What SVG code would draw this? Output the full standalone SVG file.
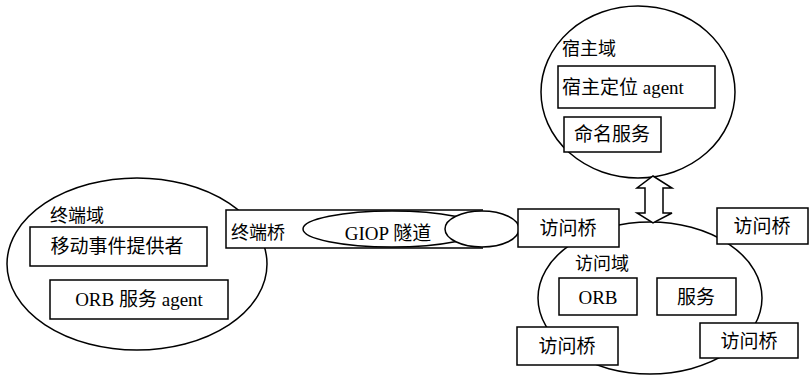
<svg xmlns="http://www.w3.org/2000/svg" width="812" height="375" viewBox="0 0 812 375">
<style>
.s{fill:#fff;stroke:#000;stroke-width:1.5}
.n{fill:none;stroke:#000;stroke-width:1.5}
text{font-family:"Liberation Serif","Noto Sans CJK SC",serif;font-size:19px;fill:#000}
.c{text-anchor:middle}
.d{font-size:18px}
</style>
<rect width="812" height="375" fill="#fff"/>
<g id="terminal-domain">
<ellipse class="s" cx="137" cy="264" rx="130" ry="86"/>
<text class="d" x="50" y="222">终端域</text>
<g id="mobile-event-provider"><rect class="s" x="30" y="227" width="177" height="39"/><text class="c" x="117" y="253">移动事件提供者</text></g>
<g id="orb-service-agent"><rect class="s" x="50" y="280" width="178" height="39"/><text class="c" x="139" y="306">ORB 服务 agent</text></g>
</g>
<g id="host-domain">
<ellipse class="s" cx="638" cy="92" rx="97" ry="86"/>
<text class="d" x="562" y="55">宿主域</text>
<g id="host-locator-agent"><rect class="s" x="558" y="66" width="157" height="42"/><text x="562" y="94">宿主定位 agent</text></g>
<g id="naming-service"><rect class="s" x="564" y="117" width="97" height="35"/><text class="c" x="612" y="141">命名服务</text></g>
</g>
<g id="access-domain">
<ellipse class="s" cx="650" cy="298" rx="112" ry="76"/>
<text class="d" x="575" y="270">访问域</text>
<g id="orb"><rect class="s" x="559" y="278" width="78" height="37"/><text class="c" x="598" y="304">ORB</text></g>
<g id="service"><rect class="s" x="657" y="278" width="79" height="37"/><text class="c" x="696" y="304">服务</text></g>
</g>
<g id="giop-tunnel">
<rect x="226" y="210" width="257" height="38" fill="#fff"/>
<path class="n" d="M483,210 H226 V248 H483"/>
<text class="d" x="231" y="239">终端桥</text>
<ellipse class="s" cx="392" cy="229" rx="89" ry="18"/>
<text class="c" x="388" y="240">GIOP 隧道</text>
<ellipse class="s" cx="482" cy="229" rx="37" ry="18"/>
</g>
<g id="access-bridge-1"><rect class="s" x="518" y="209" width="101" height="38"/><text class="c" x="568" y="235">访问桥</text></g>
<g id="access-bridge-2"><rect class="s" x="717" y="208" width="91" height="36"/><text class="c" x="762" y="233">访问桥</text></g>
<g id="access-bridge-3"><rect class="s" x="517" y="327" width="101" height="38"/><text class="c" x="567" y="353">访问桥</text></g>
<g id="access-bridge-4"><rect class="s" x="700" y="323" width="98" height="35"/><text class="c" x="749" y="348">访问桥</text></g>
<g id="connectors">
<path class="s" d="M653,176 L672,188 L663,188 L663,213 L672,213 L653,223 L637,213 L645,213 L645,188 L637,188 Z"/>
</g>
</svg>
